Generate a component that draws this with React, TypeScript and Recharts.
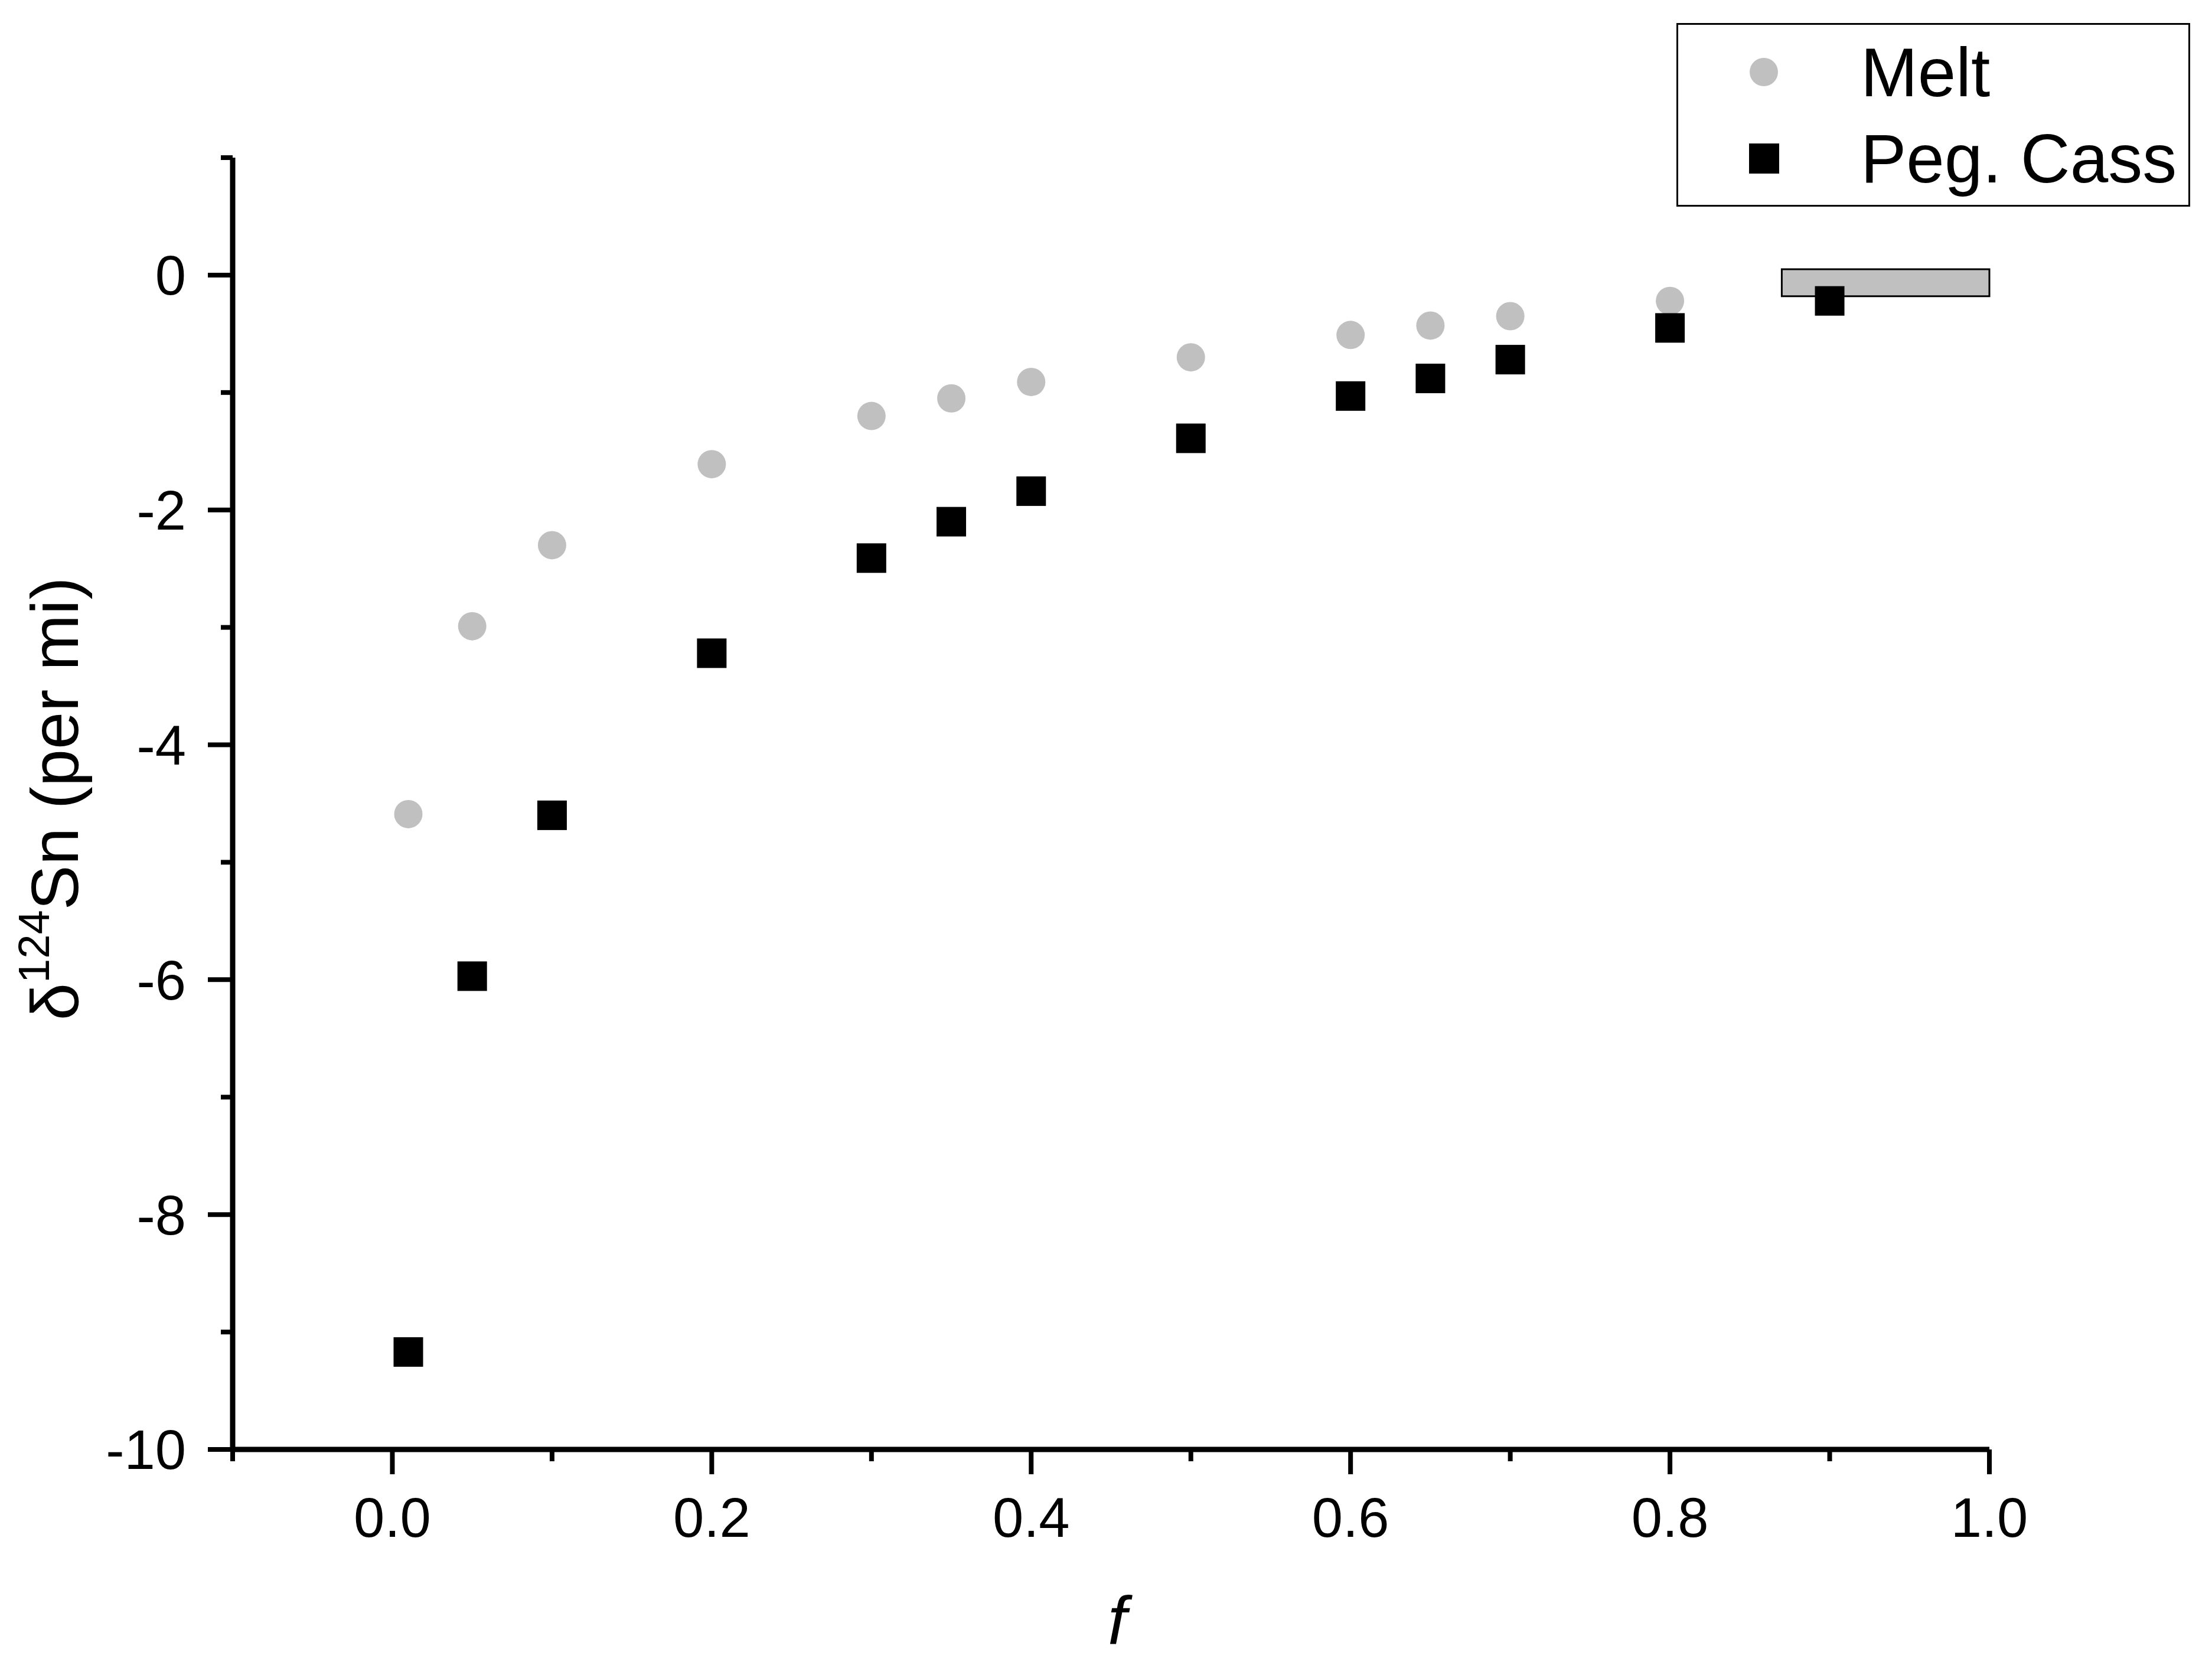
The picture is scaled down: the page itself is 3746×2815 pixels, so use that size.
import React from "react";
import {
  ScatterChart,
  Scatter,
  XAxis,
  YAxis,
  ReferenceArea,
} from "recharts";

const FONT = "'Liberation Sans', Arial, sans-serif";

// fraction f
const meltF = [0.01, 0.05, 0.1, 0.2, 0.3, 0.35, 0.4, 0.5, 0.6, 0.65, 0.7, 0.8];
const meltDelta = [-4.59, -2.99, -2.3, -1.61, -1.2, -1.05, -0.91, -0.7, -0.51, -0.43, -0.35, -0.22];

const cassF = [0.01, 0.05, 0.1, 0.2, 0.3, 0.35, 0.4, 0.5, 0.6, 0.65, 0.7, 0.8, 0.9];
const cassDelta = [-9.17, -5.97, -4.6, -3.22, -2.41, -2.1, -1.84, -1.39, -1.03, -0.88, -0.72, -0.45, -0.22];

// grey box: range of measured values
const boxF = [0.87, 1.0];
const boxDelta = [-0.18, 0.05];

const xTicks = [-0.1, 0, 0.1, 0.2, 0.3, 0.4, 0.5, 0.6, 0.7, 0.8, 0.9, 1.0];
const yTicks = [-10, -9, -8, -7, -6, -5, -4, -3, -2, -1, 0, 1];

const melt = meltF.map((f, i) => ({ f, d: meltDelta[i] }));
const cass = cassF.map((f, i) => ({ f, d: cassDelta[i] }));

const W = 3730;
const H = 2800;
const TICK_FONT = 94;
const MAJOR = 42;
const MINOR = 20;
const X_GAP = 39;
const Y_GAP = 37;

const XTick = (props: any) => {
  const { x, y, payload } = props;
  const v = payload.value;
  const major = Math.round(v * 10) % 2 === 0;
  const axisY = y - MAJOR - X_GAP;
  return (
    <g>
      <line x1={x} x2={x} y1={axisY} y2={axisY + (major ? MAJOR : MINOR)} stroke="#000" strokeWidth={8} />
      {major && (
        <text x={x} y={y} dy="0.71em" textAnchor="middle" fontSize={TICK_FONT} fontFamily={FONT} fill="#000">
          {v.toFixed(1)}
        </text>
      )}
    </g>
  );
};

const YTick = (props: any) => {
  const { x, y, payload } = props;
  const v = payload.value;
  const major = v % 2 === 0;
  const axisX = x + MAJOR + Y_GAP;
  return (
    <g>
      <line x1={axisX} x2={axisX - (major ? MAJOR : MINOR)} y1={y} y2={y} stroke="#000" strokeWidth={8} />
      {major && (
        <text x={x} y={y} dy="0.355em" textAnchor="end" fontSize={TICK_FONT} fontFamily={FONT} fill="#000">
          {String(v)}
        </text>
      )}
    </g>
  );
};

const Circle = (props: any) => <circle cx={props.cx} cy={props.cy} r={24} fill="#c0c0c0" />;
const Square = (props: any) => (
  <rect x={props.cx - 25} y={props.cy - 25} width={50} height={50} fill="#000" />
);

const series = [
  { name: "Melt", kind: "circle" },
  { name: "Peg. Cass", kind: "square" },
];

const Legend = () => (
  <svg
    width={870}
    height={311}
    style={{ position: "absolute", left: 2831, top: 31 }}
  >
    <rect x={1.5} y={1.5} width={867} height={308} fill="#fff" stroke="#000" strokeWidth={3} />
    {series.map((s, i) => {
      const cy = 83 + i * 146;
      return (
        <g key={s.name}>
          {s.kind === "circle" ? (
            <circle cx={148} cy={cy} r={24} fill="#c0c0c0" />
          ) : (
            <rect x={123} y={cy - 25} width={51} height={51} fill="#000" />
          )}
          <text x={312} y={cy + 41} fontSize={116} fontFamily={FONT} fill="#000">
            {s.name}
          </text>
        </g>
      );
    })}
  </svg>
);

export default function App() {
  return (
    <div style={{ position: "relative", width: W, height: H, background: "#fff" }}>
      <ScatterChart
        width={W}
        height={H}
        margin={{ top: 259, right: 369, bottom: 203, left: 86 }}
      >
        <XAxis
          type="number"
          dataKey="f"
          domain={[-0.1, 1.0]}
          ticks={xTicks}
          interval={0}
          height={150}
          tickSize={MAJOR}
          tickMargin={X_GAP}
          tickLine={false}
          tick={<XTick />}
          axisLine={{ stroke: "#000", strokeWidth: 9 }}
          allowDataOverflow
          label={{
            content: () => (
              <text x={1884} y={2777} textAnchor="middle" fontSize={115} fontStyle="italic" fontFamily={FONT} fill="#000">
                f
              </text>
            ),
          }}
        />
        <YAxis
          type="number"
          dataKey="d"
          domain={[-10, 1]}
          ticks={yTicks}
          interval={0}
          width={300}
          tickSize={MAJOR}
          tickMargin={Y_GAP}
          tickLine={false}
          tick={<YTick />}
          axisLine={{ stroke: "#000", strokeWidth: 9 }}
          allowDataOverflow
          label={{
            content: () => (
              <text
                x={124}
                y={1345}
                textAnchor="middle"
                transform="rotate(-90, 124, 1345)"
                fontSize={114}
                fontFamily={FONT}
                fill="#000"
              >
                δ
                <tspan fontSize={74} dy={-49}>124</tspan>
                <tspan dy={49}>Sn (per mi)</tspan>
              </text>
            ),
          }}
        />
        <Scatter name="Melt" data={melt} shape={<Circle />} isAnimationActive={false} />
        <ReferenceArea
          x1={boxF[0]}
          x2={boxF[1]}
          y1={boxDelta[0]}
          y2={boxDelta[1]}
          fill="#c0c0c0"
          fillOpacity={1}
          stroke="#000"
          strokeWidth={3}
        />
        <Scatter name="Peg. Cass" data={cass} shape={<Square />} isAnimationActive={false} />
      </ScatterChart>
      <Legend />
    </div>
  );
}
